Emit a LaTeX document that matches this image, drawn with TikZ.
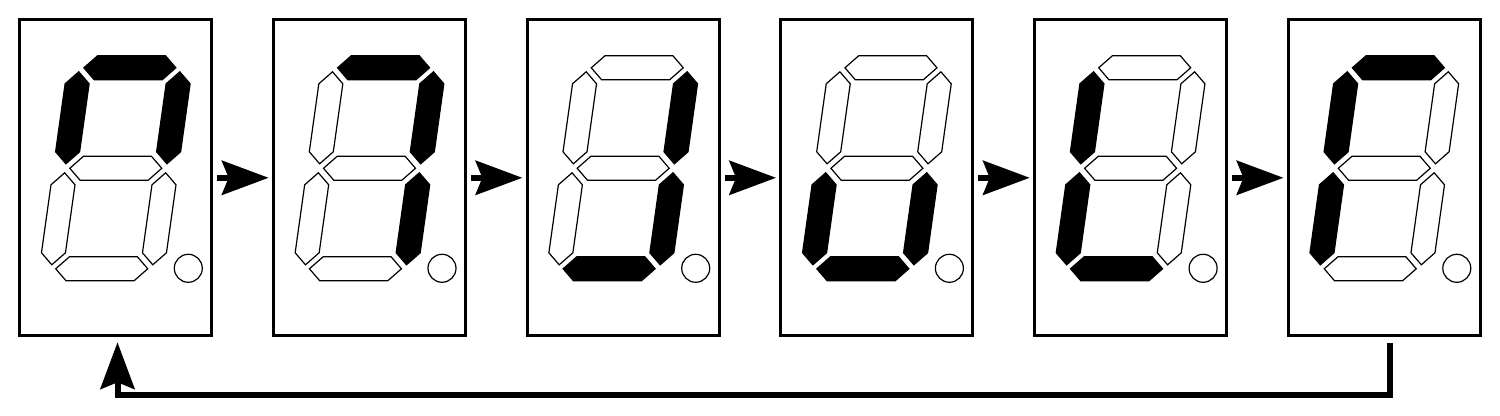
\documentclass[tikz,border=0pt]{standalone}
\usetikzlibrary{arrows.meta,calc}
\tikzset{
 dispbox/.style={draw, line width=2.25pt, minimum width=144pt, minimum height=237pt, inner sep=0pt},
 seg/.style={draw, line width=0.9pt, line join=miter},
 conn/.style={line width=4.5pt, -{Stealth[length=35pt,width=25.5pt,inset=5pt]}},
}
\newcommand\hseg[3]{\path[seg,fill=#3] (#1,#2) ++(-46,0) -- ++(12,12) -- ++(68,0) -- ++(12,-12) -- ++(-12,-12) -- ++(-68,0) -- cycle;}
\newcommand\vseg[3]{\path[seg,fill=#3] (#1,#2) ++(0,46) -- ++(12,-12) -- ++(0,-68) -- ++(-12,-12) -- ++(-12,12) -- ++(0,68) -- cycle;}
\newcommand\segdigit[8]{%
 \begin{scope}[shift={($(#1.center)+(0,9.5)$)}, xslant=0.14]
 \hseg{0}{100.5}{#2}
 \vseg{50.5}{50.5}{#3}
 \vseg{50.5}{-50.5}{#4}
 \hseg{0}{-100.5}{#5}
 \vseg{-50.5}{-50.5}{#6}
 \vseg{-50.5}{50.5}{#7}
 \hseg{0}{0}{#8}
 \end{scope}
 \draw[seg] ($(#1.center)+(72.5,-90.5)$) circle [radius=14];
}
\begin{document}
\begin{tikzpicture}[x=0.75pt,y=0.75pt]
\useasboundingbox (0,0) rectangle (1500,416);
\node[dispbox] (b1) at (115.8,238.2) {};
\node[dispbox] (b2) at (369.5,238.2) {};
\node[dispbox] (b3) at (623.2,238.2) {};
\node[dispbox] (b4) at (876.9,238.2) {};
\node[dispbox] (b5) at (1130.6,238.2) {};
\node[dispbox] (b6) at (1384.3,238.2) {};
\segdigit{b1}{black}{black}{white}{white}{white}{black}{white}
\segdigit{b2}{black}{black}{black}{white}{white}{white}{white}
\segdigit{b3}{white}{black}{black}{black}{white}{white}{white}
\segdigit{b4}{white}{white}{black}{black}{black}{white}{white}
\segdigit{b5}{white}{white}{white}{black}{black}{black}{white}
\segdigit{b6}{black}{white}{white}{white}{black}{black}{white}
\draw[conn, shorten <=3pt, shorten >=2.5pt] (b1.east) -- (b2.west);
\draw[conn, shorten <=3pt, shorten >=2.5pt] (b2.east) -- (b3.west);
\draw[conn, shorten <=3pt, shorten >=2.5pt] (b3.east) -- (b4.west);
\draw[conn, shorten <=3pt, shorten >=2.5pt] (b4.east) -- (b5.west);
\draw[conn, shorten <=3pt, shorten >=2.5pt] (b5.east) -- (b6.west);
\coordinate (fs) at ($(b6.south)+(6,-6)$);
\coordinate (fe) at ($(b1.south)+(1.7,-5)$);
\coordinate (fl) at (0,20.5);
\draw[conn] (fs) -- (fs |- fl) -- (fe |- fl) -- (fe);
\end{tikzpicture}
\end{document}
